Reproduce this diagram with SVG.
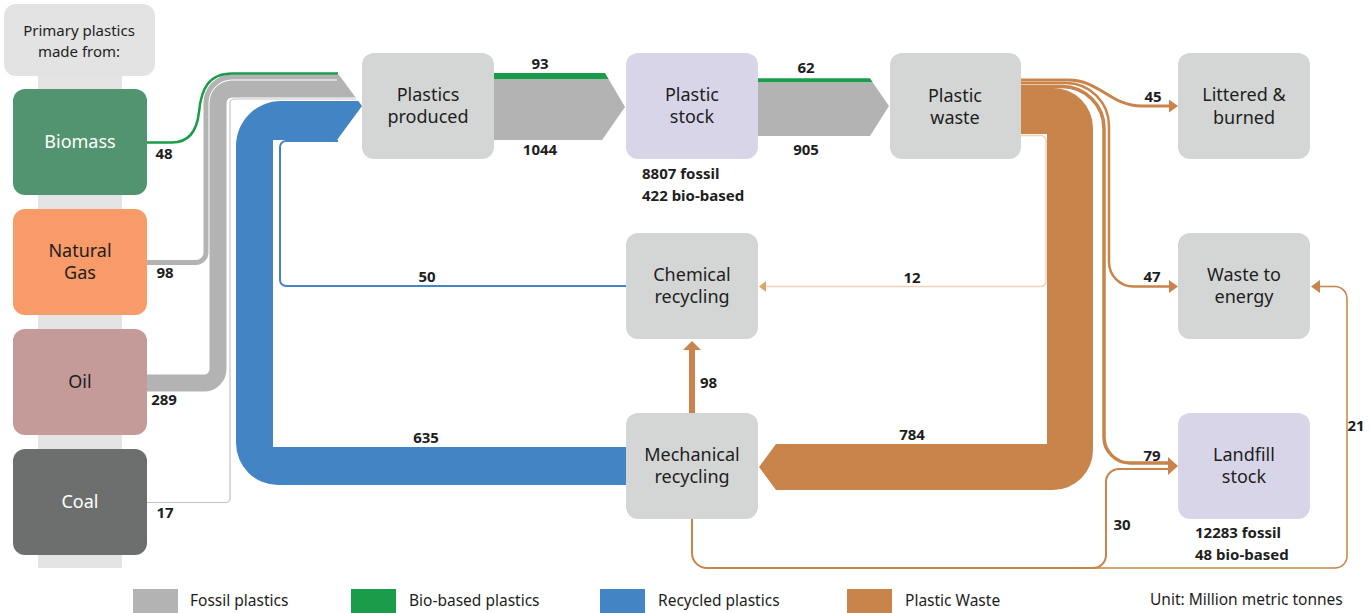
<svg xmlns="http://www.w3.org/2000/svg" width="1371" height="613" viewBox="0 0 1371 613">
<style>
text{font-family:"Noto Sans","Open Sans",sans-serif;fill:#1e1e1e}
.nl{font-size:18px;text-anchor:middle}
.v{font-size:15px;font-weight:bold;text-anchor:middle}
.vl{font-size:15px;font-weight:bold}
.lg{font-size:15.5px}
.hd{font-size:15px;text-anchor:middle}
.nodeG{fill:#d4d6d5}
.nodeP{fill:#d8d5e8}
.or{fill:none;stroke:#c8844a}
.ao{fill:#c8844a}
</style>
<rect width="1371" height="613" fill="#fff"/>
<g id="source-panel">
<rect x="38" y="70" width="84" height="498" fill="#e4e4e4"/>
<rect x="4" y="4" width="151" height="72" rx="12" fill="#e3e3e3"/>
<text class="hd" x="79" y="36">Primary plastics</text>
<text class="hd" x="79" y="57">made from:</text>
</g>
<g id="connectors">
<path d="M147,262.5 H196 A10,10 0 0 0 206,252.5 V103 A26,26 0 0 1 232,77 H338" fill="none" stroke="#b2b3b2" stroke-width="5"/>
<path d="M147,383 H204 A14,14 0 0 0 218,369 V103 A14,14 0 0 1 232,89 H338" fill="none" stroke="#b2b3b2" stroke-width="17"/>
<path d="M147,502.5 H226 A4,4 0 0 0 230,498.5 V103 A4,4 0 0 1 234,99 H356" fill="none" stroke="#c3c3c3" stroke-width="1.2"/>
<path d="M147,142.5 H172 C190,142.5 197,130 199,112 C201,90 208,73.5 232,73.5 H338" fill="none" stroke="#1a9d4a" stroke-width="2.5"/>
<polygon points="337,74.6 338.7,74.6 355.7,97.5 337,97.5" fill="#b2b3b2"/>
<path d="M626,485 H278 A42,42 0 0 1 236,443 V146 A45,45 0 0 1 281,101 H358.3 L362,106 L337,140 H273 V447 H626 Z" fill="#4384c4"/>
<path d="M626,286 H286 A6,6 0 0 1 280,280 V147 A6,6 0 0 1 286,141 H338" fill="none" stroke="#4384c4" stroke-width="2"/>
<polygon points="494,73 605,73 608.6,79 494,79" fill="#1a9d4a"/>
<polygon points="494,79 608.6,79 625,107 602,140 494,140" fill="#b2b3b2"/>
<polygon points="758,78.3 870,78.3 872.8,82.5 758,82.5" fill="#1a9d4a"/>
<polygon points="758,82.5 872.8,82.5 889,106 870,136 758,136" fill="#b2b3b2"/>
<path d="M1021,88 H1053 A40,40 0 0 1 1093,128 V450 A40,40 0 0 1 1053,490 H776 L759,467 L776,444 H1047 V134 H1021 Z" fill="#c8844a"/>
<path d="M1021,135.5 H1041 A5,5 0 0 1 1046,140.5 V281 A5,5 0 0 1 1041,286.5 H765" fill="none" stroke="#f0d4b6" stroke-width="1.5"/>
<polygon points="766,281 759,286.5 766,292" fill="#d9a36c"/>
<path class="or" d="M1021,80 H1068 C1100,80 1110,106 1142,106 H1170" stroke-width="3"/>
<polygon class="ao" points="1169,99.5 1178,106 1169,112.5"/>
<path class="or" d="M1021,86.5 H1062 A42,42 0 0 1 1104,128.5 V437 A26,26 0 0 0 1130,463 H1170" stroke-width="3.5"/>
<path class="or" d="M1021,83 H1066 A43,43 0 0 1 1109,126 V262 A24.5,24.5 0 0 0 1133.5,286.5 H1170" stroke-width="2.5"/>
<polygon class="ao" points="1169,280 1178,286.5 1169,293"/>
<rect x="689" y="349" width="6" height="64" fill="#c8844a"/>
<polygon class="ao" points="683,350 692,341 701,350"/>
<path class="or" d="M692,519 V553 A15,15 0 0 0 707,568 H1093 A13,13 0 0 0 1106,555 V482 A13,13 0 0 1 1119,469 H1170" stroke-width="2"/>
<polygon class="ao" points="1168,457 1178,466 1168,475"/>
<path class="or" d="M1093,568 H1335 A12,12 0 0 0 1347,556 V298 A12,12 0 0 0 1335,286.5 H1319" stroke-width="1.5"/>
<polygon class="ao" points="1320,280 1311,286.5 1320,293"/>
</g>
<g id="labels">
<text class="v" x="164" y="159">48</text>
<text class="v" x="165" y="278">98</text>
<text class="v" x="164" y="405">289</text>
<text class="v" x="165" y="518">17</text>
<text class="v" x="540" y="69">93</text>
<text class="v" x="540" y="155">1044</text>
<text class="v" x="806" y="73">62</text>
<text class="v" x="806" y="155">905</text>
<text class="vl" x="642" y="179">8807 fossil</text>
<text class="vl" x="642" y="201">422 bio-based</text>
<text class="v" x="427" y="282">50</text>
<text class="v" x="912" y="283">12</text>
<text class="v" x="426" y="443">635</text>
<text class="v" x="912" y="440">784</text>
<text class="vl" x="700" y="388">98</text>
<text class="v" x="1153" y="102">45</text>
<text class="v" x="1152" y="282">47</text>
<text class="v" x="1152" y="461">79</text>
<text class="v" x="1122" y="530">30</text>
<text class="v" x="1356" y="431">21</text>
<text class="vl" x="1195" y="538">12283 fossil</text>
<text class="vl" x="1195" y="560">48 bio-based</text>
</g>
<g id="node-biomass"><rect x="13" y="89" width="134" height="106" rx="12" fill="#52946f"/><text class="nl" x="80" y="148" style="fill:#fff">Biomass</text></g>
<g id="node-natural-gas"><rect x="13" y="209" width="134" height="106" rx="12" fill="#f99a69"/><text class="nl" x="80" y="257">Natural</text><text class="nl" x="80" y="279">Gas</text></g>
<g id="node-oil"><rect x="13" y="329" width="134" height="106" rx="12" fill="#c49b99"/><text class="nl" x="80" y="388">Oil</text></g>
<g id="node-coal"><rect x="13" y="449" width="134" height="106" rx="12" fill="#6d6f6f"/><text class="nl" x="80" y="508" style="fill:#fff">Coal</text></g>
<g id="node-plastics-produced"><rect class="nodeG" x="362" y="53" width="132" height="106" rx="12"/><text class="nl" x="428" y="101">Plastics</text><text class="nl" x="428" y="123">produced</text></g>
<g id="node-plastic-stock"><rect class="nodeP" x="626" y="53" width="132" height="106" rx="12"/><text class="nl" x="692" y="101">Plastic</text><text class="nl" x="692" y="123">stock</text></g>
<g id="node-plastic-waste"><rect class="nodeG" x="890" y="53" width="131" height="106" rx="12"/><text class="nl" x="955" y="102">Plastic</text><text class="nl" x="955" y="124">waste</text></g>
<g id="node-littered"><rect class="nodeG" x="1178" y="53" width="132" height="106" rx="12"/><text class="nl" x="1244" y="101">Littered &amp;</text><text class="nl" x="1244" y="124">burned</text></g>
<g id="node-chemical"><rect class="nodeG" x="626" y="233" width="132" height="106" rx="12"/><text class="nl" x="692" y="281">Chemical</text><text class="nl" x="692" y="303">recycling</text></g>
<g id="node-waste-energy"><rect class="nodeG" x="1178" y="233" width="132" height="106" rx="12"/><text class="nl" x="1244" y="281">Waste to</text><text class="nl" x="1244" y="303">energy</text></g>
<g id="node-mechanical"><rect class="nodeG" x="626" y="413" width="132" height="106" rx="12"/><text class="nl" x="692" y="461">Mechanical</text><text class="nl" x="692" y="483">recycling</text></g>
<g id="node-landfill"><rect class="nodeP" x="1178" y="413" width="132" height="106" rx="12"/><text class="nl" x="1244" y="461">Landfill</text><text class="nl" x="1244" y="483">stock</text></g>
<g id="legend">
<rect x="133" y="589" width="45" height="24" fill="#b2b3b2"/><text class="lg" x="190" y="606">Fossil plastics</text>
<rect x="351" y="589" width="45" height="24" fill="#1a9d4a"/><text class="lg" x="409" y="606">Bio-based plastics</text>
<rect x="600" y="589" width="45" height="24" fill="#4384c4"/><text class="lg" x="658" y="606">Recycled plastics</text>
<rect x="847" y="589" width="45" height="24" fill="#c8844a"/><text class="lg" x="905" y="606">Plastic Waste</text>
<text class="lg" x="1150" y="605">Unit: Million metric tonnes</text>
</g>
</svg>
